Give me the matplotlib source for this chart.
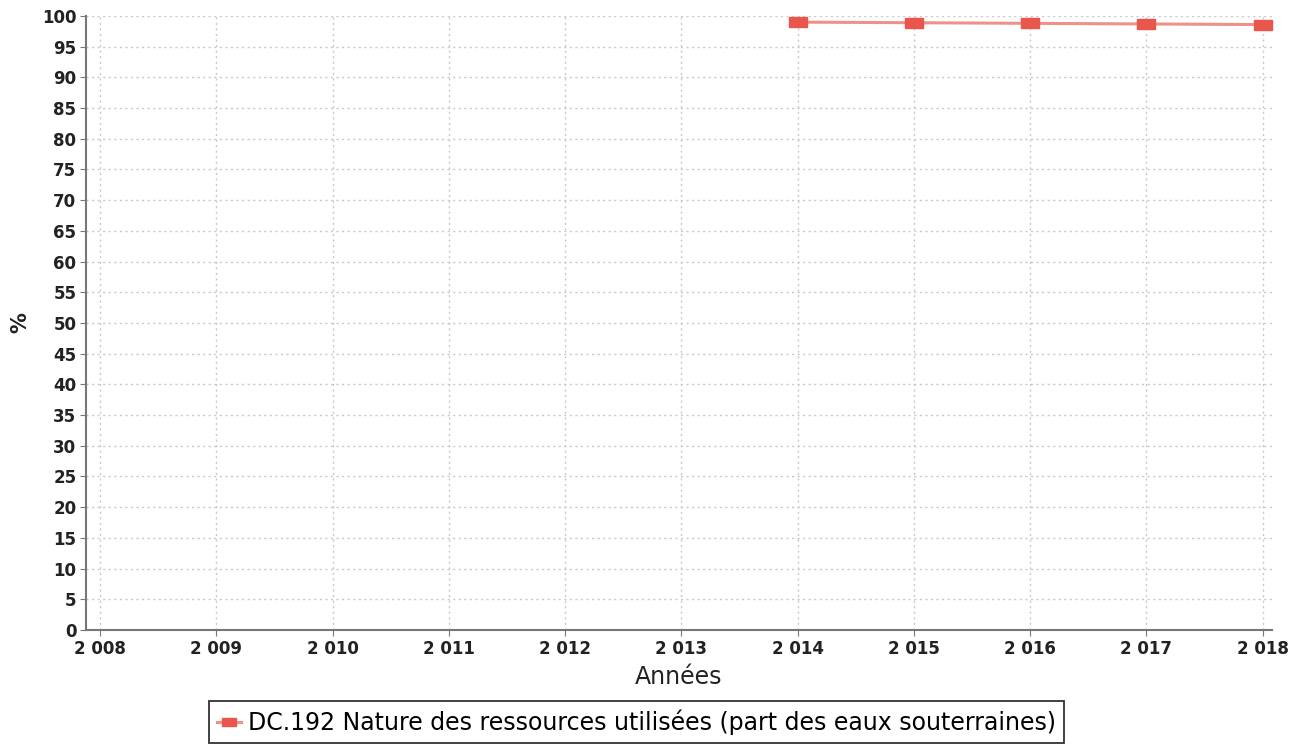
import matplotlib
matplotlib.use("Agg")
import matplotlib.pyplot as plt
from matplotlib.ticker import FuncFormatter, MultipleLocator

years = [2014, 2015, 2016, 2017, 2018]
values = [99.0, 98.9, 98.8, 98.7, 98.6]
series_label = "DC.192 Nature des ressources utilisées (part des eaux souterraines)"
x_ticks = list(range(2008, 2019))

fig = plt.figure(figsize=(13.04, 7.5), dpi=100)
ax = fig.add_axes([0.066, 0.16, 0.9095, 0.8187])

rect = [(-1, -0.55), (1, -0.55), (1, 0.55), (-1, 0.55), (-1, -0.55)]
ax.plot(years, values, color="#f0908a", lw=2.2, marker=rect, markersize=13,
        markerfacecolor="#e9564c", markeredgecolor="#e9564c", label=series_label,
        zorder=3, clip_on=False)

ax.set_xlim(2007.88, 2018.08)
ax.set_ylim(0, 100)
ax.set_xticks(x_ticks)
ax.yaxis.set_major_locator(MultipleLocator(5))
ax.xaxis.set_major_formatter(FuncFormatter(lambda v, p: f"{int(v):,}".replace(",", " ")))

ax.grid(True, which="major", axis="both", color="#c8c8c8", linestyle=(0, (1.5, 2.5)), lw=1)
for s in ["top", "right"]:
    ax.spines[s].set_visible(False)
for s in ["left", "bottom"]:
    ax.spines[s].set_color("#777777")
    ax.spines[s].set_linewidth(1.5)

ax.tick_params(axis="both", length=4, color="#777777", labelsize=12, pad=3)
for lab in ax.get_xticklabels() + ax.get_yticklabels():
    lab.set_fontweight("bold")
    lab.set_color("#222222")

ax.set_xlabel("Années", fontsize=17, color="#222222", labelpad=5)
ax.set_ylabel("%", fontsize=15, fontweight="bold", color="#222222", labelpad=8)

leg = fig.legend(loc="center", bbox_to_anchor=(0.488, 0.037), fontsize=17,
                 frameon=True, fancybox=False, edgecolor="black", handlelength=1.0,
                 handletextpad=0.3, borderpad=0.35, markerscale=0.75)
leg.get_frame().set_linewidth(1.3)

fig.savefig("out.png", dpi=100)
